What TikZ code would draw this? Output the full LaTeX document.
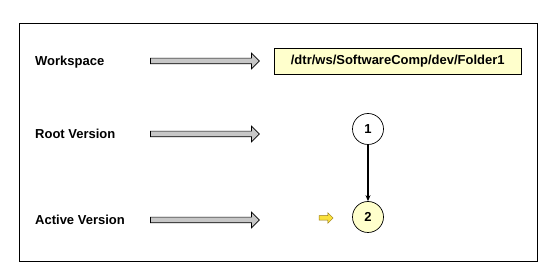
\documentclass[tikz,border=0pt]{standalone}
\usepackage{fontspec}
\setmainfont{Liberation Sans}
\usepackage{tikz}
\usetikzlibrary{arrows.meta,positioning,shapes.arrows}
\definecolor{PaleY}{RGB}{255,255,204}
\definecolor{ArrY}{RGB}{250,225,60}
\definecolor{ArrEdge}{RGB}{150,120,20}
\tikzset{
  lbl/.style={anchor=west,font=\fontsize{13}{15}\selectfont\bfseries,inner sep=0pt},
  fatarrow/.style={single arrow,draw=black,fill=black!22,line width=0.7pt,
                   minimum height=109pt,minimum width=15pt,inner sep=0pt,
                   inner ysep=2.5pt,single arrow head extend=5pt},
  pathbox/.style={draw=black,fill=PaleY,line width=0.7pt,minimum width=247pt,
                  minimum height=26pt,font=\fontsize{13}{15}\selectfont\bfseries},
  ver/.style={circle,draw=black,line width=0.7pt,minimum size=31pt,inner sep=0pt,
              font=\fontsize{13}{15}\selectfont\bfseries},
  curarrow/.style={single arrow,draw=ArrEdge,fill=ArrY,line width=0.5pt,
                   minimum height=14pt,minimum width=10pt,inner sep=0pt,
                   inner ysep=2pt,single arrow head extend=3pt},
  link/.style={-{Stealth[length=6pt,width=5pt]},line width=1.4pt},
}
\begin{document}
\begin{tikzpicture}[x=1pt,y=-1pt,>=Stealth,node distance=14pt]
  \useasboundingbox (0,0) rectangle (560,280);
  \draw[line width=0.8pt] (19.5,23) rectangle (537,261);
  % rows
  \node[lbl] (wsl) at (35,62) {Workspace};
  \node[lbl] (rtl) at (35,134) {Root Version};
  \node[lbl] (acl) at (35,220) {Active Version};
  \node[fatarrow] (wsarr) at (203.5,61) {};
  \node[fatarrow] (rtarr) at (203.5,134) {};
  \node[fatarrow] (acarr) at (203.5,220) {};
  \node[pathbox,anchor=west,right=14pt of wsarr] (ws) {/dtr/ws/SoftwareComp/dev/Folder1};
  % versions
  \node[ver] (v1) at (368,129) {1};
  \node[ver,fill=PaleY] (v2) at (368,217) {2};
  \node[curarrow] (cur) at (325,218) {};
  \draw[link] (v1) -- (v2);
\end{tikzpicture}
\end{document}
